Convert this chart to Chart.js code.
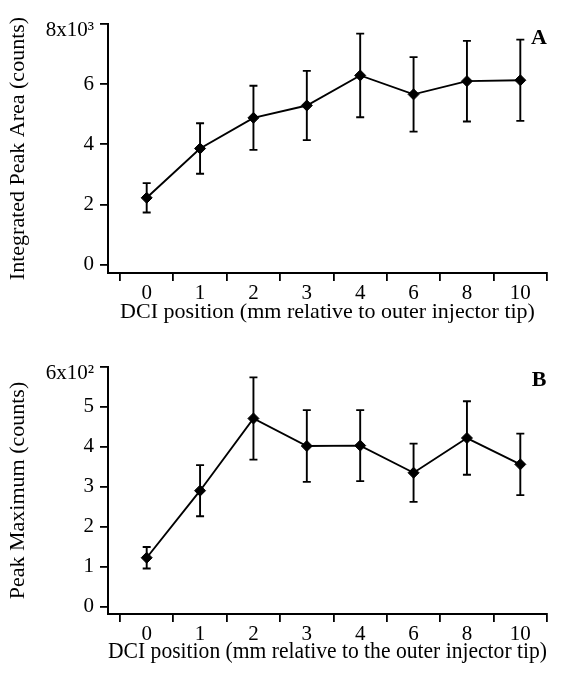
<!DOCTYPE html>
<html><head><meta charset="utf-8">
<script src="https://cdn.jsdelivr.net/npm/chart.js@4"></script>
<style>
html,body{margin:0;padding:0;background:#fff;}
#wrap{position:relative;width:564px;height:675px;overflow:hidden;}
canvas{position:absolute;left:0;}
</style></head><body>
<div id="wrap">
<canvas id="cA" width="564" height="338" style="top:0px"></canvas>
<canvas id="cB" width="564" height="333" style="top:342px"></canvas>
</div>
<script>
// ---- data ----
const categories = ['0', '1', '2', '3', '4', '6', '8', '10'];
const areaValues = [2220, 3860, 4880, 5290, 6290, 5660, 6100, 6130];
const areaErrors = [490, 840, 1065, 1150, 1390, 1240, 1340, 1350];
const maxValues = [122, 290, 471, 402, 403, 335, 422, 356];
const maxErrors = [27, 64, 103, 90, 89, 73, 92, 77];
const areaTicks = [0, 2000, 4000, 6000, 8000];
const areaTickLabels = ['0', '2', '4', '6', '8x10³'];
const maxTicks = [0, 100, 200, 300, 400, 500, 600];
const maxTickLabels = ['0', '1', '2', '3', '4', '5', '6x10²'];

const FAM = "'Liberation Serif', 'Times New Roman', serif";
Chart.defaults.font.family = FAM;
Chart.defaults.color = '#000';

const errorBars = {
  id: 'errorBars',
  beforeDatasetsDraw(chart, args, opts) {
    const ctx = chart.ctx, xs = chart.scales.x, ys = chart.scales.y;
    const data = chart.data.datasets[0].data;
    ctx.save();
    ctx.strokeStyle = '#000';
    ctx.lineWidth = 1.9;
    data.forEach((p, i) => {
      const e = opts.errors[i];
      const x = xs.getPixelForValue(p.x);
      const yt = ys.getPixelForValue(p.y + e);
      const yb = ys.getPixelForValue(p.y - e);
      ctx.beginPath();
      ctx.moveTo(x, yt); ctx.lineTo(x, yb);
      ctx.moveTo(x - 4, yt); ctx.lineTo(x + 4, yt);
      ctx.moveTo(x - 4, yb); ctx.lineTo(x + 4, yb);
      ctx.stroke();
    });
    ctx.restore();
  }
};

const panelLabel = {
  id: 'panelLabel',
  afterDraw(chart, args, opts) {
    const ctx = chart.ctx, a = chart.chartArea;
    ctx.save();
    ctx.fillStyle = '#000';
    ctx.font = 'bold 22px ' + FAM;
    ctx.textAlign = 'center';
    ctx.textBaseline = 'middle';
    ctx.fillText(opts.text, a.right - 8, a.top + opts.dy);
    ctx.restore();
  }
};

function makeChart(id, cfg) {
  const canvas = document.getElementById(id);
  const H = canvas.height;
  const lastIdx = cfg.ticks.length - 1;
  return new Chart(canvas, {
    type: 'line',
    data: {
      datasets: [{
        data: cfg.values.map((v, i) => ({ x: i, y: v })),
        borderColor: '#000',
        borderWidth: 1.9,
        pointStyle: 'rectRot',
        pointRadius: 5.5,
        pointBackgroundColor: '#000',
        pointBorderColor: '#000',
        pointBorderWidth: 1,
        tension: 0,
        clip: false
      }]
    },
    options: {
      responsive: false,
      animation: false,
      layout: { padding: { top: cfg.top, right: 17, left: 0, bottom: 0 } },
      plugins: {
        legend: { display: false },
        tooltip: { enabled: false },
        errorBars: { errors: cfg.errors },
        panelLabel: { text: cfg.label, dy: cfg.labelDy }
      },
      scales: {
        x: {
          type: 'linear',
          min: -0.725, max: 7.5,
          afterBuildTicks: s => {
            s.ticks = categories.map((c, i) => ({ value: i - 0.5 })).concat([{ value: categories.length - 0.5 }]);
          },
          afterFit: s => { s.height = H - cfg.axisY; },
          ticks: {
            autoSkip: false, maxRotation: 0, minRotation: 0,
            labelOffset: 26.7, padding: 0,
            color: '#000', font: { size: 21 },
            callback: (v, i) => (i < categories.length ? categories[i] : '')
          },
          grid: { drawOnChartArea: false, drawTicks: true, tickLength: 8, color: '#000', lineWidth: 1.8 },
          border: { display: true, color: '#000', width: 2 },
          title: {
            display: true, text: cfg.xTitle, color: '#000',
            font: { size: cfg.xTitleSize }, padding: { top: 0, bottom: cfg.xTitlePad }
          }
        },
        y: {
          min: cfg.yMin, max: cfg.yMax,
          afterBuildTicks: s => { s.ticks = cfg.ticks.map(v => ({ value: v })); },
          afterFit: s => { s.width = 108; },
          ticks: {
            padding: 6, color: '#000',
            font: ctx => ({ size: 21, lineHeight: ctx.index === lastIdx ? 0.62 : 1.2 }),
            callback: (v, i) => (i === lastIdx ? ['', cfg.tickLabels[i]] : cfg.tickLabels[i])
          },
          grid: { drawOnChartArea: false, drawTicks: true, tickLength: 8, color: '#000', lineWidth: 1.8 },
          border: { display: true, color: '#000', width: 2 },
          title: {
            display: true, text: cfg.yTitle, color: '#000',
            font: { size: 22 }, padding: { top: 5, bottom: 0 }
          }
        }
      }
    },
    plugins: [errorBars, panelLabel]
  });
}

makeChart('cA', {
  values: areaValues, errors: areaErrors,
  ticks: areaTicks, tickLabels: areaTickLabels,
  yMin: -280, yMax: 8000, top: 24, axisY: 273,
  label: 'A', labelDy: 14, xTitlePad: 13, xTitleSize: 22,
  xTitle: 'DCI position (mm relative to outer injector tip)',
  yTitle: 'Integrated Peak Area (counts)'
});
makeChart('cB', {
  values: maxValues, errors: maxErrors,
  ticks: maxTicks, tickLabels: maxTickLabels,
  yMin: -19, yMax: 600, top: 25, axisY: 272,
  label: 'B', labelDy: 13, xTitlePad: 9, xTitleSize: 23,
  xTitle: 'DCI position (mm relative to the outer injector tip)',
  yTitle: 'Peak Maximum (counts)'
});
</script>
</body></html>
